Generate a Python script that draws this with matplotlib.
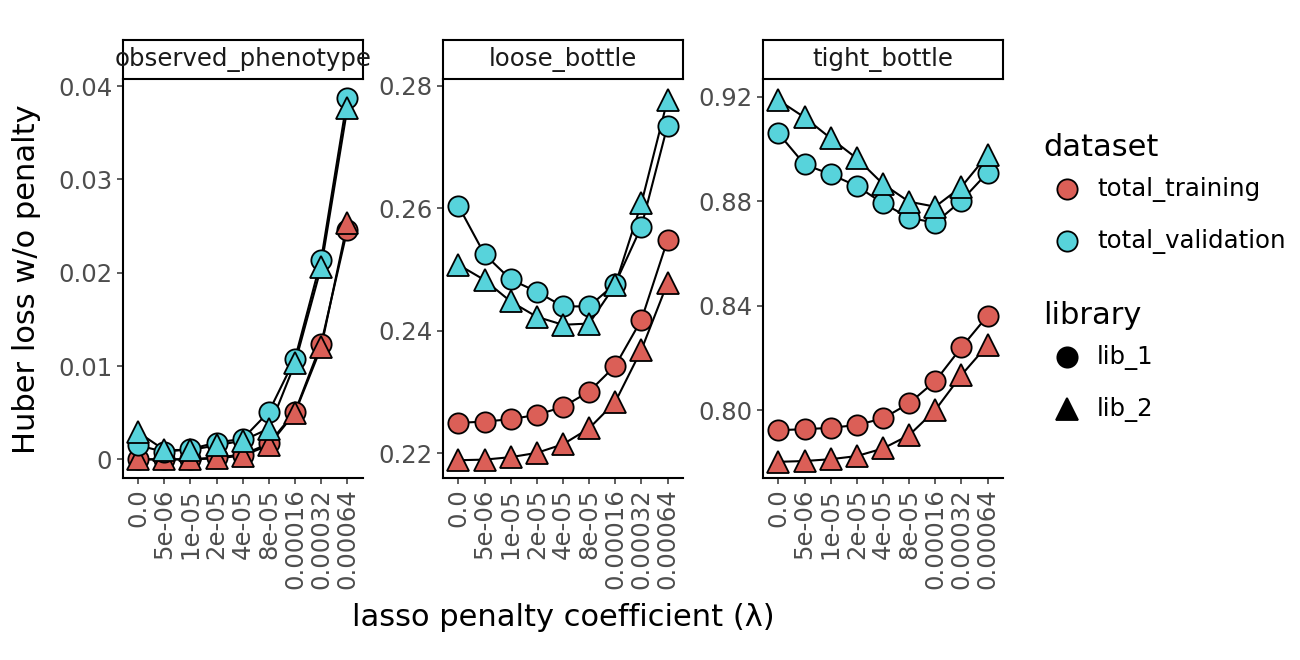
import matplotlib
matplotlib.use("Agg")
import matplotlib.pyplot as plt
from matplotlib.lines import Line2D

plt.rcParams['font.family'] = ['DejaVu Sans']

lambdas = ["0.0", "5e-06", "1e-05", "2e-05", "4e-05", "8e-05", "0.00016", "0.00032", "0.00064"]
panels = ["observed_phenotype", "loose_bottle", "tight_bottle"]

# observed_phenotype
op_train_lib1 = [0.0000, 0.0000, 0.0000, 0.0002, 0.0005, 0.0017, 0.0051, 0.0124, 0.0246]
op_train_lib2 = [0.0000, 0.0000, 0.0000, 0.0001, 0.0004, 0.0015, 0.0050, 0.0120, 0.0253]
op_val_lib1 = [0.0015, 0.0008, 0.0011, 0.0018, 0.0022, 0.0051, 0.0108, 0.0214, 0.0387]
op_val_lib2 = [0.0029, 0.0010, 0.0010, 0.0015, 0.0020, 0.0033, 0.0103, 0.0206, 0.0376]

# loose_bottle
lb_train_lib1 = [0.2250, 0.2252, 0.2256, 0.2263, 0.2276, 0.2301, 0.2343, 0.2418, 0.2548]
lb_train_lib2 = [0.2189, 0.2190, 0.2194, 0.2201, 0.2215, 0.2241, 0.2284, 0.2369, 0.2478]
lb_val_lib1 = [0.2604, 0.2525, 0.2484, 0.2464, 0.2440, 0.2440, 0.2477, 0.2570, 0.2735]
lb_val_lib2 = [0.2508, 0.2483, 0.2448, 0.2423, 0.2410, 0.2412, 0.2475, 0.2608, 0.2777]

# tight_bottle
tb_train_lib1 = [0.7923, 0.7927, 0.7932, 0.7943, 0.7968, 0.8026, 0.8111, 0.8240, 0.8361]
tb_train_lib2 = [0.7802, 0.7805, 0.7812, 0.7824, 0.7853, 0.7904, 0.8000, 0.8134, 0.8249]
tb_val_lib1 = [0.9060, 0.8941, 0.8903, 0.8858, 0.8792, 0.8737, 0.8717, 0.8802, 0.8909]
tb_val_lib2 = [0.9187, 0.9121, 0.9041, 0.8964, 0.8866, 0.8798, 0.8779, 0.8855, 0.8977]

datasets = ["total_training", "total_validation"]
libraries = ["lib_1", "lib_2"]
colors = {"total_training": "#DB5F57", "total_validation": "#57D3DB"}
markers = {"lib_1": "o", "lib_2": "^"}
msize = {"lib_1": 7.3, "lib_2": 7.7}

data = {
    "observed_phenotype": {
        ("total_training", "lib_1"): op_train_lib1,
        ("total_training", "lib_2"): op_train_lib2,
        ("total_validation", "lib_1"): op_val_lib1,
        ("total_validation", "lib_2"): op_val_lib2,
    },
    "loose_bottle": {
        ("total_training", "lib_1"): lb_train_lib1,
        ("total_training", "lib_2"): lb_train_lib2,
        ("total_validation", "lib_1"): lb_val_lib1,
        ("total_validation", "lib_2"): lb_val_lib2,
    },
    "tight_bottle": {
        ("total_training", "lib_1"): tb_train_lib1,
        ("total_training", "lib_2"): tb_train_lib2,
        ("total_validation", "lib_1"): tb_val_lib1,
        ("total_validation", "lib_2"): tb_val_lib2,
    },
}

yticks = {
    "observed_phenotype": ([0.0, 0.01, 0.02, 0.03, 0.04], ["0", "0.01", "0.02", "0.03", "0.04"]),
    "loose_bottle": ([0.22, 0.24, 0.26, 0.28], ["0.22", "0.24", "0.26", "0.28"]),
    "tight_bottle": ([0.80, 0.84, 0.88, 0.92], ["0.80", "0.84", "0.88", "0.92"]),
}
ylims = {
    "observed_phenotype": (-0.0020, 0.04075),
    "loose_bottle": (0.2160, 0.2811),
    "tight_bottle": (0.7740, 0.9268),
}

W, H = 1300, 660
fig = plt.figure(figsize=(6.5, 3.3), dpi=200)
lefts = [122.5, 442.7, 762.7]
ax_w = 240.5
ax_top, ax_bot = 79, 478
strip_top = 40

tick_color = "#4D4D4D"
x = list(range(len(lambdas)))

for left, name in zip(lefts, panels):
    ax = fig.add_axes([left / W, (H - ax_bot) / H, ax_w / W, (ax_bot - ax_top) / H])
    for ds in datasets:
        for lib in libraries:
            vals = data[name][(ds, lib)]
            ax.plot(x, vals, color="black", lw=0.75, zorder=2)
            ax.plot(x, vals, linestyle="none", marker=markers[lib], markersize=msize[lib],
                    markerfacecolor=colors[ds], markeredgecolor="black", markeredgewidth=0.65, zorder=3)
    ax.set_xlim(-0.6, 8.6)
    ax.set_ylim(*ylims[name])
    ax.set_xticks(x)
    ax.set_xticklabels(lambdas, rotation=90, fontsize=8.8, color=tick_color)
    t, l = yticks[name]
    ax.set_yticks(t)
    ax.set_yticklabels(l, fontsize=8.8, color=tick_color)
    for s in ["top", "right"]:
        ax.spines[s].set_visible(False)
    for s in ["left", "bottom"]:
        ax.spines[s].set_linewidth(0.75)
        ax.spines[s].set_color("black")
    ax.tick_params(axis="both", length=2.2, width=0.55, color="#333333", pad=1.5)
    ax.set_facecolor("white")

    # strip
    sax = fig.add_axes([left / W, (H - ax_top) / H, ax_w / W, (ax_top - strip_top) / H])
    sax.set_xticks([])
    sax.set_yticks([])
    for s in sax.spines.values():
        s.set_linewidth(0.75)
        s.set_color("black")
    sax.set_facecolor("white")
    sax.text(0.5, 0.5, name, ha="center", va="center", fontsize=8.8, color="#1A1A1A",
             transform=sax.transAxes, clip_on=False)

fig.text(27 / W, 1 - 279 / H, "Huber loss w/o penalty", rotation=90, ha="center", va="center", fontsize=11)
fig.text(563 / W, 1 - 618 / H, "lasso penalty coefficient (λ)", ha="center", va="center", fontsize=11)

# legends (drawn manually in figure pixel coordinates)
def fy(py):
    return 1 - py / H

fig.text(1043 / W, fy(147), "dataset", ha="left", va="center", fontsize=11)
for ds, py in zip(datasets, [189, 241]):
    fig.add_artist(Line2D([1067 / W], [fy(py)], linestyle="none", marker="o", markersize=msize["lib_1"],
                          markerfacecolor=colors[ds], markeredgecolor="black", markeredgewidth=0.65,
                          transform=fig.transFigure))
    fig.text(1097 / W, fy(py), ds, ha="left", va="center", fontsize=8.8)

fig.text(1043 / W, fy(315), "library", ha="left", va="center", fontsize=11)
for lib, py in zip(libraries, [357, 409]):
    fig.add_artist(Line2D([1067 / W], [fy(py)], linestyle="none", marker=markers[lib], markersize=msize[lib],
                          markerfacecolor="black", markeredgecolor="black", markeredgewidth=0.65,
                          transform=fig.transFigure))
    fig.text(1097 / W, fy(py), lib, ha="left", va="center", fontsize=8.8)

fig.savefig("out.png", dpi=200, facecolor="white")
